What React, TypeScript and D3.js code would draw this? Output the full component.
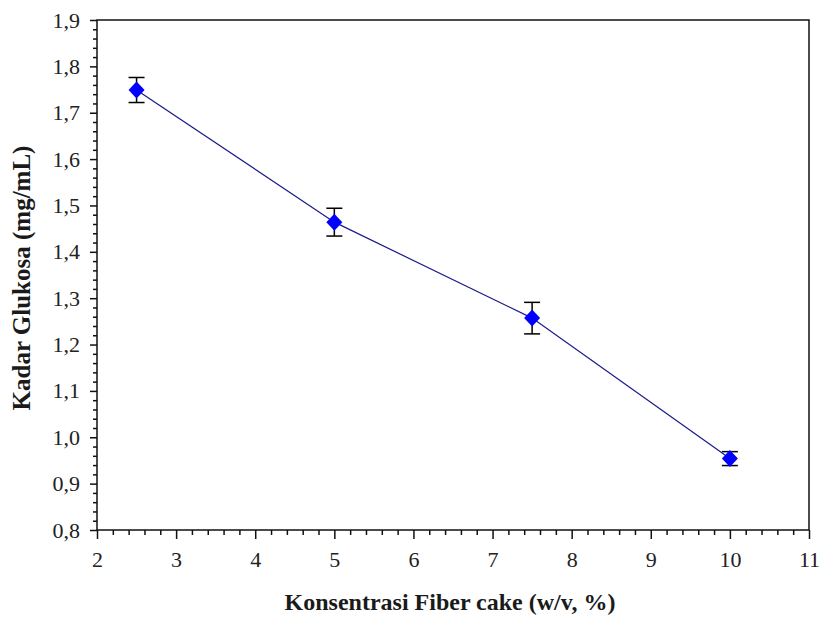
import React, { useEffect, useRef } from 'react';
import * as d3 from 'd3';

// data
const konsentrasi = [2.5, 5, 7.5, 10];
const glukosa = [1.749, 1.464, 1.257, 0.954];
const galat = [0.027, 0.03, 0.034, 0.015];
const xTicks = [2, 3, 4, 5, 6, 7, 8, 9, 10, 11];
const yTicks = [0.8, 0.9, 1.0, 1.1, 1.2, 1.3, 1.4, 1.5, 1.6, 1.7, 1.8, 1.9];

const W = 826, H = 618;

export default function App() {
    const ref = useRef<SVGSVGElement>(null);

    useEffect(() => {
        const margin = { top: 20, right: 17, bottom: 88, left: 97 };
        const svg = d3.select(ref.current);
        svg.selectAll('*').remove();

        const x = d3.scaleLinear().domain([2, 11]).range([margin.left, W - margin.right]);
        const y = d3.scaleLinear().domain([0.8, 1.9]).range([H - margin.bottom, margin.top]);
        const fmt = (d: number) => d3.format('.1f')(d).replace('.', ',');
        const fontFam = '"Liberation Serif", "Times New Roman", serif';

        // minor ticks
        const xMinor = d3.range(20, 111, 2).map(d => d / 10).filter(d => !xTicks.includes(d));
        const yMinor = d3.range(80, 191, 2).map(d => d / 100).filter(d => !yTicks.some(t => Math.abs(t - d) < 1e-9));

        svg.append('g')
            .attr('transform', `translate(0,${H - margin.bottom})`)
            .call(d3.axisBottom(x).tickValues(xMinor).tickSize(5).tickFormat(() => ''))
            .call(g => g.select('.domain').remove())
            .selectAll('line').attr('stroke', '#111').attr('stroke-width', 1.5);

        svg.append('g')
            .attr('transform', `translate(${margin.left},0)`)
            .call(d3.axisLeft(y).tickValues(yMinor).tickSize(4).tickFormat(() => ''))
            .call(g => g.select('.domain').remove())
            .selectAll('line').attr('stroke', '#111').attr('stroke-width', 1.5);

        // major ticks + labels
        const xAxis = svg.append('g')
            .attr('transform', `translate(0,${H - margin.bottom})`)
            .call(d3.axisBottom(x).tickValues(xTicks).tickSize(9).tickPadding(12).tickFormat(d => String(d)))
            .call(g => g.select('.domain').remove());
        xAxis.selectAll('line').attr('stroke', '#111').attr('stroke-width', 1.5);
        xAxis.selectAll('text').attr('font-family', fontFam).attr('font-size', 22).attr('fill', '#222');

        const yAxis = svg.append('g')
            .attr('transform', `translate(${margin.left},0)`)
            .call(d3.axisLeft(y).tickValues(yTicks).tickSize(7).tickPadding(10).tickFormat(d => fmt(d as number)))
            .call(g => g.select('.domain').remove());
        yAxis.selectAll('line').attr('stroke', '#111').attr('stroke-width', 1.5);
        yAxis.selectAll('text').attr('font-family', fontFam).attr('font-size', 22).attr('fill', '#222');

        // frame
        svg.append('rect')
            .attr('x', margin.left).attr('y', margin.top)
            .attr('width', W - margin.left - margin.right)
            .attr('height', H - margin.top - margin.bottom)
            .attr('fill', 'none').attr('stroke', '#111').attr('stroke-width', 1.5);

        const data = konsentrasi.map((k, i) => ({ x: k, y: glukosa[i], e: galat[i] }));

        // line
        svg.append('path')
            .datum(data)
            .attr('fill', 'none')
            .attr('stroke', '#1a1a8c')
            .attr('stroke-width', 1.2)
            .attr('d', d3.line<any>().x(d => x(d.x)).y(d => y(d.y)));

        // error bars
        const eb = svg.append('g').attr('stroke', '#000').attr('stroke-width', 1.5);
        data.forEach(d => {
            eb.append('line').attr('x1', x(d.x)).attr('x2', x(d.x)).attr('y1', y(d.y - d.e)).attr('y2', y(d.y + d.e));
            eb.append('line').attr('x1', x(d.x) - 8).attr('x2', x(d.x) + 8).attr('y1', y(d.y + d.e)).attr('y2', y(d.y + d.e));
            eb.append('line').attr('x1', x(d.x) - 8).attr('x2', x(d.x) + 8).attr('y1', y(d.y - d.e)).attr('y2', y(d.y - d.e));
        });

        // diamond markers
        svg.append('g').selectAll('path')
            .data(data)
            .enter().append('path')
            .attr('transform', d => `translate(${x(d.x)},${y(d.y)})`)
            .attr('d', 'M0,-8.5L8,0L0,8.5L-8,0Z')
            .attr('fill', '#0000ff');

        // axis titles
        svg.append('text')
            .attr('x', (margin.left + W - margin.right) / 2 - 3)
            .attr('y', 610)
            .attr('text-anchor', 'middle')
            .attr('font-family', fontFam).attr('font-weight', 'bold').attr('font-size', 24)
            .attr('fill', '#1a1a1a')
            .text('Konsentrasi Fiber cake (w/v, %)');

        svg.append('text')
            .attr('transform', `translate(30,${(margin.top + H - margin.bottom) / 2 + 3}) rotate(-90)`)
            .attr('text-anchor', 'middle')
            .attr('font-family', fontFam).attr('font-weight', 'bold').attr('font-size', 25)
            .attr('fill', '#1a1a1a')
            .text('Kadar Glukosa (mg/mL)');
    }, []);

    return (
        <svg ref={ref} width={W} height={H}
            style={{ position: 'absolute', left: 0, top: 0, background: '#fff' }} />
    );
}
